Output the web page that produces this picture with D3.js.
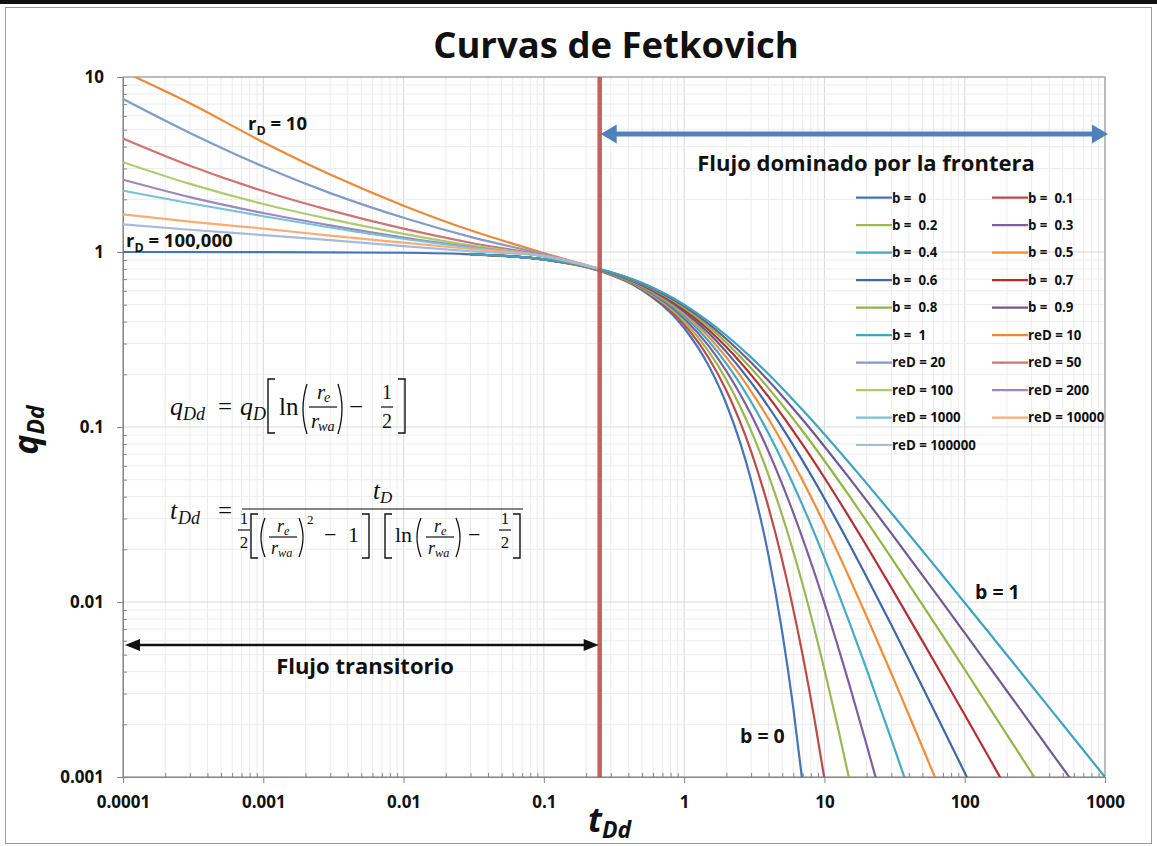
<!DOCTYPE html>
<html>
<head>
<meta charset="utf-8">
<script src="https://cdn.jsdelivr.net/npm/d3@7"></script>
<style>
  html, body { margin: 0; padding: 0; background: #fff; }
  svg { display: block; }
  text { font-family: "Open Sans", Lato, sans-serif; }
</style>
</head>
<body>
<svg id="chart" width="1157" height="846"></svg>
<script>
// ---------------- data ----------------
const xTickValues = [1e-4, 1e-3, 1e-2, 0.1, 1, 10, 100, 1000];
const xTickLabels = ["0.0001", "0.001", "0.01", "0.1", "1", "10", "100", "1000"];
const yTickValues = [0.001, 0.01, 0.1, 1, 10];
const yTickLabels = ["0.001", "0.01", "0.1", "1", "10"];

// start of boundary-dominated flow (tDd)
const boundaryT = 0.25;

// depletion stems (Arps), pairs of [tDd, qDd]
const qB0  = [[0.0001,1.0],[0.001,0.999],[0.01,0.990],[0.03,0.9704],[0.1,0.9048],[0.25,0.7788],[0.5,0.6065],[1,0.3679],[1.5,0.2231],[2,0.1353],[3,0.04979],[4,0.01832],[5,0.006738],[6,0.002479],[7,0.000912]];
const qB01 = [[0.03,0.9705],[0.1,0.9053],[0.25,0.7812],[0.5,0.6139],[1,0.3855],[1.5,0.2472],[2,0.1615],[3,0.07254],[4,0.03457],[5,0.01734],[7,0.004958],[8.5,0.002131],[10,0.000977]];
const qB02 = [[0.03,0.9705],[0.1,0.9057],[0.25,0.7835],[0.5,0.6209],[1,0.4019],[1.5,0.2693],[2,0.1859],[3,0.09537],[4,0.05292],[5,0.03125],[7,0.01256],[10,0.004115],[12.5,0.001903],[15,0.000977]];
const qB03 = [[0.03,0.9706],[0.1,0.9062],[0.25,0.7858],[0.5,0.6276],[1,0.4171],[1.5,0.2898],[2,0.2087],[3,0.1177],[4,0.07222],[5,0.04716],[7,0.02302],[10,0.009846],[15,0.003405],[20,0.001524],[25,0.000798]];
const qB04 = [[0.03,0.9706],[0.1,0.9066],[0.25,0.7880],[0.5,0.6339],[1,0.4312],[1.5,0.3088],[2,0.2301],[3,0.1393],[4,0.09172],[5,0.06415],[7,0.03552],[10,0.01789],[15,0.007714],[20,0.004115],[30,0.001641],[40,0.000839]];
const qB05 = [[0.03,0.9706],[0.1,0.9070],[0.25,0.7901],[0.5,0.6400],[1,0.4444],[1.5,0.3265],[2,0.2500],[3,0.1600],[4,0.1111],[5,0.08163],[7,0.04938],[10,0.02778],[15,0.01384],[20,0.008264],[30,0.003906],[50,0.001479],[70,0.000772]];
const qB06 = [[0.03,0.9707],[0.1,0.9075],[0.25,0.7922],[0.5,0.6458],[1,0.4569],[1.5,0.3431],[2,0.2687],[3,0.1798],[4,0.1301],[5,0.09921],[7,0.06407],[10,0.03904],[15,0.02154],[20,0.01391],[30,0.007392],[50,0.003268],[70,0.001895],[100,0.001059],[120,0.000784]];
const qB07 = [[0.03,0.9707],[0.1,0.9079],[0.25,0.7942],[0.5,0.6513],[1,0.4686],[1.5,0.3586],[2,0.2863],[3,0.1986],[4,0.1485],[5,0.1166],[7,0.07920],[10,0.05127],[15,0.03053],[20,0.02089],[30,0.01208],[50,0.005980],[70,0.003742],[100,0.002267],[150,0.001280],[200,0.000850]];
const qB08 = [[0.03,0.9708],[0.1,0.9083],[0.25,0.7962],[0.5,0.6567],[1,0.4796],[1.5,0.3732],[2,0.3029],[3,0.2166],[4,0.1663],[5,0.1337],[7,0.09452],[10,0.06415],[15,0.04051],[20,0.02897],[30,0.01789],[50,0.009630],[70,0.006383],[100,0.004115],[150,0.002491],[200,0.001744],[300,0.001054],[350,0.000869]];
const qB09 = [[0.03,0.9708],[0.1,0.9087],[0.25,0.7981],[0.5,0.6618],[1,0.4901],[1.5,0.3870],[2,0.3185],[3,0.2337],[4,0.1835],[5,0.1505],[7,0.1099],[10,0.07743],[15,0.05124],[20,0.03796],[30,0.02466],[50,0.01421],[70,0.009846],[100,0.006656],[150,0.004260],[200,0.003100],[300,0.001981],[500,0.001124],[600,0.000918]];
const qB1  = [[0.03,0.9709],[0.1,0.9091],[0.25,0.8000],[0.5,0.6667],[1,0.5000],[1.5,0.4000],[2,0.3333],[3,0.2500],[4,0.2000],[5,0.1667],[7,0.1250],[10,0.09091],[15,0.0625],[20,0.04762],[30,0.03226],[50,0.01961],[70,0.01408],[100,0.009901],[150,0.006623],[200,0.004975],[300,0.003322],[500,0.001996],[700,0.001427],[1000,0.000999]];

// transient stems: one qDd per entry of transientT
const transientT = [0.0001, 0.0003, 0.001, 0.003, 0.01, 0.03, 0.1, 0.25];
const qReD10     = [10.77, 7.08, 4.24, 2.77, 1.84, 1.33, 0.987, 0.80];
const qReD20     = [7.49, 4.79, 3.08, 2.17, 1.57, 1.22, 0.970, 0.80];
const qReD50     = [4.45, 3.11, 2.23, 1.73, 1.36, 1.13, 0.954, 0.80];
const qReD100    = [3.26, 2.45, 1.88, 1.54, 1.27, 1.09, 0.948, 0.80];
const qReD200    = [2.59, 2.06, 1.67, 1.42, 1.21, 1.07, 0.945, 0.80];
const qReD1000   = [2.24, 1.90, 1.60, 1.38, 1.19, 1.06, 0.945, 0.80];
const qReD10000  = [1.64, 1.49, 1.36, 1.24, 1.13, 1.04, 0.950, 0.80];
const qReD100000 = [1.44, 1.34, 1.25, 1.17, 1.08, 1.01, 0.950, 0.80];

const seriesNames = ["b =  0","b =  0.1","b =  0.2","b =  0.3","b =  0.4","b =  0.5","b =  0.6","b =  0.7","b =  0.8","b =  0.9","b =  1",
                     "reD = 10","reD = 20","reD = 50","reD = 100","reD = 200","reD = 1000","reD = 10000","reD = 100000"];
const seriesColors = ["#4674B8","#BE4B48","#98B954","#7D60A0","#46AAC5","#F38D3A","#3E69A6","#B42F32","#93B545","#6F5A96","#3FA4BE",
                      "#EB8A36","#819BCB","#CF7472","#AFCB6F","#9D87BD","#78C2D7","#F9AD72","#A6BBDA"];

// ---------------- chart ----------------
const W = 1157, H = 846;
const plot = { left: 123, right: 1105, top: 77, bottom: 777 };
const svg = d3.select("#chart");

const x = d3.scaleLog().domain([1e-4, 1000]).range([plot.left, plot.right]);
const y = d3.scaleLog().domain([0.001, 10]).range([plot.bottom, plot.top]);

// outer frame
svg.append("rect").attr("x", 0).attr("y", 0).attr("width", W).attr("height", 4).attr("fill", "#111");
svg.append("rect").attr("x", 5.5).attr("y", 7.5).attr("width", W - 11).attr("height", H - 10)
   .attr("fill", "#fff").attr("stroke", "#9a9a9a");

// title
svg.append("text").attr("x", 616).attr("y", 58).attr("text-anchor", "middle")
   .attr("font-size", 36.5).attr("font-weight", 700).attr("fill", "#111").text("Curvas de Fetkovich");

// grid
const allX = x.ticks();
const allY = y.ticks();
const isMajor = v => Math.abs(Math.log10(v) - Math.round(Math.log10(v))) < 1e-9;
const grid = svg.append("g");
grid.selectAll("line.gx").data(allX).join("line")
  .attr("x1", d => x(d)).attr("x2", d => x(d)).attr("y1", plot.top).attr("y2", plot.bottom)
  .attr("stroke", d => isMajor(d) ? "#d9d9d9" : "#ececec").attr("stroke-width", 1);
grid.selectAll("line.gy").data(allY).join("line")
  .attr("y1", d => y(d)).attr("y2", d => y(d)).attr("x1", plot.left).attr("x2", plot.right)
  .attr("stroke", d => isMajor(d) ? "#d9d9d9" : "#ececec").attr("stroke-width", 1);

// plot border
svg.append("rect").attr("x", plot.left).attr("y", plot.top)
   .attr("width", plot.right - plot.left).attr("height", plot.bottom - plot.top)
   .attr("fill", "none").attr("stroke", "#8a8a8a");

// axes
const minorX = allX.filter(d => !isMajor(d));
const minorY = allY.filter(d => !isMajor(d));
const axisColor = "#868686";

const gx = svg.append("g").attr("transform", `translate(0,${plot.bottom})`)
  .call(d3.axisBottom(x).tickValues(xTickValues).tickFormat((d, i) => xTickLabels[i]).tickSizeInner(6).tickSizeOuter(0).tickPadding(13));
const gxm = svg.append("g").attr("transform", `translate(0,${plot.bottom})`)
  .call(d3.axisBottom(x).tickValues(minorX).tickFormat("").tickSizeInner(-4).tickSizeOuter(0));
const gy = svg.append("g").attr("transform", `translate(${plot.left},0)`)
  .call(d3.axisLeft(y).tickValues(yTickValues).tickFormat((d, i) => yTickLabels[i]).tickSizeInner(6).tickSizeOuter(0).tickPadding(13));
const gym = svg.append("g").attr("transform", `translate(${plot.left},0)`)
  .call(d3.axisLeft(y).tickValues(minorY).tickFormat("").tickSizeInner(-4).tickSizeOuter(0));
[gx, gxm, gy, gym].forEach(g => {
  g.selectAll("path.domain").attr("stroke", axisColor);
  g.selectAll(".tick line").attr("stroke", axisColor);
});
[gx, gy].forEach(g => g.selectAll(".tick text")
  .style("font-family", "'Open Sans', sans-serif").attr("font-size", 17).attr("font-weight", 700).attr("fill", "#111"));

// axis titles
const xt = svg.append("text").attr("x", 588).attr("y", 832)
  .attr("font-size", 34).attr("font-weight", 700).attr("font-style", "italic").attr("fill", "#111");
xt.append("tspan").text("t");
xt.append("tspan").attr("font-size", 23).attr("dy", 6).text("Dd");

const yt = svg.append("text").attr("transform", "translate(38,430) rotate(-90)").attr("text-anchor", "middle")
  .attr("font-size", 34).attr("font-weight", 700).attr("font-style", "italic").attr("fill", "#111");
yt.append("tspan").text("q");
yt.append("tspan").attr("font-size", 23).attr("dy", 6).text("Dd");

// curves
svg.append("clipPath").attr("id", "plotClip").append("rect")
  .attr("x", plot.left).attr("y", plot.top).attr("width", plot.right - plot.left).attr("height", plot.bottom - plot.top);

const depletion = [qB0, qB01, qB02, qB03, qB04, qB05, qB06, qB07, qB08, qB09, qB1];
const transient = [qReD10, qReD20, qReD50, qReD100, qReD200, qReD1000, qReD10000, qReD100000]
  .map(arr => transientT.map((t, i) => [t, arr[i]]));
const allSeries = depletion.concat(transient);

const line = d3.line().x(d => x(d[0])).y(d => y(d[1])).curve(d3.curveMonotoneX);
svg.append("g").attr("clip-path", "url(#plotClip)")
  .selectAll("path").data(allSeries).join("path")
  .attr("d", line).attr("fill", "none")
  .attr("stroke", (d, i) => seriesColors[i]).attr("stroke-width", 2.2)
  .attr("stroke-linejoin", "round");

// boundary line
const xb = x(boundaryT);
svg.append("line").attr("x1", xb).attr("x2", xb).attr("y1", plot.top).attr("y2", plot.bottom)
  .attr("stroke", "#C0504D").attr("stroke-width", 4.5).attr("opacity", 0.9);

// flow-regime arrows
function doubleArrow(x1, x2, yy, color, width, headL, headW) {
  const g = svg.append("g");
  g.append("line").attr("x1", x1 + headL - 2).attr("x2", x2 - headL + 2).attr("y1", yy).attr("y2", yy)
    .attr("stroke", color).attr("stroke-width", width);
  g.append("path").attr("d", `M${x1},${yy} L${x1 + headL},${yy - headW / 2} L${x1 + headL},${yy + headW / 2} Z`).attr("fill", color);
  g.append("path").attr("d", `M${x2},${yy} L${x2 - headL},${yy - headW / 2} L${x2 - headL},${yy + headW / 2} Z`).attr("fill", color);
}
doubleArrow(xb + 1, x(1000) + 3, 134, "#4F81BD", 5, 16, 19);
doubleArrow(x(1e-4) + 2, xb - 1, 645, "#111", 2.5, 15, 12);

const labelStyle = sel => sel.attr("font-weight", 700).attr("fill", "#111").style("white-space", "pre");
svg.append("text").attr("x", 866).attr("y", 171).attr("text-anchor", "middle").attr("font-size", 22)
  .call(labelStyle).text("Flujo dominado por la frontera");
svg.append("text").attr("x", 365).attr("y", 674).attr("text-anchor", "middle").attr("font-size", 22)
  .call(labelStyle).text("Flujo transitorio");

// curve labels
function rLabel(lx, ly, value) {
  const t = svg.append("text").attr("x", lx).attr("y", ly).attr("font-size", 18.5).call(labelStyle);
  t.append("tspan").text("r");
  t.append("tspan").attr("font-size", 12.5).attr("dy", 5).text("D");
  t.append("tspan").attr("dy", -5).text(" = " + value);
}
rLabel(248, 130, "10");
rLabel(126, 247, "100,000");
svg.append("text").attr("x", 975).attr("y", 599).attr("font-size", 19.5).call(labelStyle).text("b = 1");
svg.append("text").attr("x", 740).attr("y", 743).attr("font-size", 19.5).call(labelStyle).text("b = 0");

// legend
const legend = svg.append("g");
seriesNames.forEach((name, i) => {
  const col = i % 2, row = Math.floor(i / 2);
  const lx = col === 0 ? 856 : 992;
  const ly = 197.7 + row * 27.48;
  legend.append("line").attr("x1", lx).attr("x2", lx + 36).attr("y1", ly).attr("y2", ly)
    .attr("stroke", seriesColors[i]).attr("stroke-width", 2.2);
  legend.append("text").attr("x", lx + 36).attr("y", ly + 4.8).attr("font-size", 13.3)
    .call(labelStyle).text(name);
});

// formulas
const serif = "'Liberation Serif', 'DejaVu Serif', serif";
const fg = svg.append("g").attr("fill", "#111");
function mt(tx, ty, s, size, italic, anchor) {
  return fg.append("text").attr("x", tx).attr("y", ty).style("font-family", serif)
    .attr("font-size", size).attr("font-style", italic ? "italic" : "normal")
    .attr("text-anchor", anchor || "start").text(s);
}
function bar(x1, x2, yy) {
  fg.append("line").attr("x1", x1).attr("x2", x2).attr("y1", yy).attr("y2", yy).attr("stroke", "#111").attr("stroke-width", 1.2);
}
function brk(bx, y0, y1, left) {
  const d = left ? `M${bx + 7},${y0} H${bx} V${y1} H${bx + 7}` : `M${bx},${y0} H${bx + 7} V${y1} H${bx}`;
  fg.append("path").attr("d", d).attr("fill", "none").attr("stroke", "#111").attr("stroke-width", 1.4);
}
function par(px, y0, y1, left) {
  const m = (y0 + y1) / 2;
  const d = left ? `M${px + 6},${y0} Q${px - 2},${m} ${px + 6},${y1}` : `M${px},${y0} Q${px + 8},${m} ${px},${y1}`;
  fg.append("path").attr("d", d).attr("fill", "none").attr("stroke", "#111").attr("stroke-width", 1.3);
}
function ratio(cx, yNum, yBar, yDen, size) {
  mt(cx - 6, yNum, "r", size, true); mt(cx + 1, yNum + 3, "e", size * 0.68, true);
  bar(cx - 14, cx + 14, yBar);
  mt(cx - 12, yDen, "r", size, true); mt(cx - 5, yDen + 3, "wa", size * 0.68, true);
}
function half(cx, yNum, yBar, yDen, size) {
  mt(cx, yNum, "1", size, false, "middle"); bar(cx - 6, cx + 6, yBar); mt(cx, yDen, "2", size, false, "middle");
}

// q_Dd = q_D [ ln(re/rwa) - 1/2 ]
mt(170, 415, "q", 26, true); mt(183, 420, "Dd", 18, true);
mt(218, 415, "=", 25, false);
mt(240, 415, "q", 26, true); mt(253, 420, "D", 18, true);
brk(268, 379, 433, true);
mt(279, 415, "ln", 25, false);
par(301, 384, 434, true);
ratio(323, 399, 407, 428, 21);
par(338, 384, 434, false);
mt(349, 415, "\u2212", 25, false);
half(387, 399, 407, 428, 20);
brk(398, 379, 433, false);

// t_Dd = t_D / ( 1/2 [ (re/rwa)^2 - 1 ] [ ln(re/rwa) - 1/2 ] )
mt(170, 519, "t", 26, true); mt(178, 524, "Dd", 18, true);
mt(218, 519, "=", 25, false);
bar(242, 523, 509);
mt(373, 499, "t", 25, true); mt(380, 503, "D", 17, true);
half(244, 524, 530, 548, 17);
brk(251, 514, 558, true);
par(259, 518, 557, true);
ratio(283, 532, 537, 554, 18);
par(299, 518, 557, false);
mt(307, 524, "2", 13, false);
mt(324, 542, "\u2212", 22, false);
mt(348, 542, "1", 22, false);
brk(362, 514, 558, false);
brk(385, 514, 558, true);
mt(395, 542, "ln", 22, false);
par(415, 518, 557, true);
ratio(440, 532, 537, 554, 18);
par(456, 518, 557, false);
mt(468, 542, "\u2212", 22, false);
half(505, 524, 530, 548, 17);
brk(513, 514, 558, false);
</script>
</body>
</html>
